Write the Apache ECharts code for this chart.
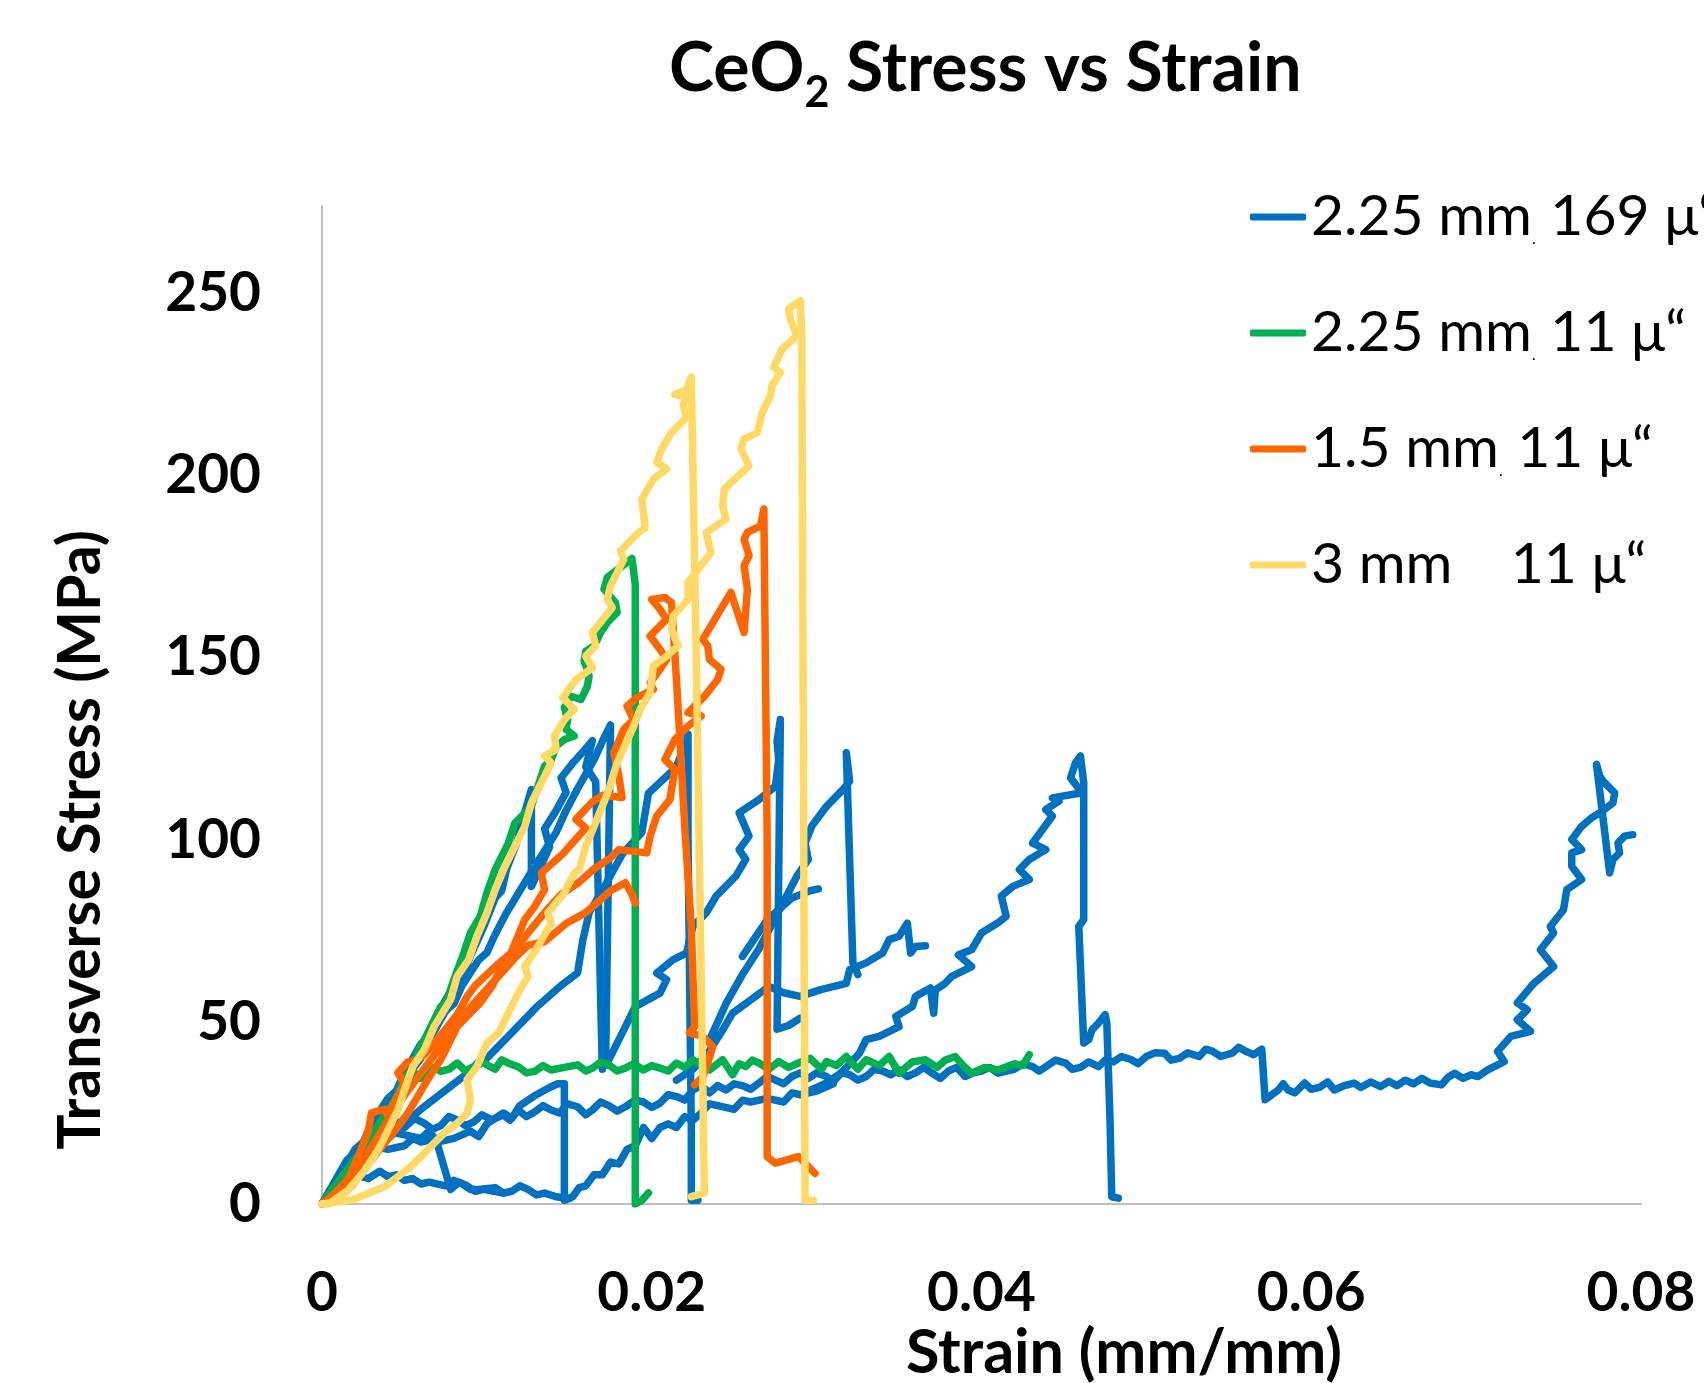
<!DOCTYPE html>
<html>
<head>
<meta charset="utf-8">
<script src="https://cdn.jsdelivr.net/npm/echarts@6/dist/echarts.min.js"></script>
<style>
  html, body { margin: 0; padding: 0; background: #fff; }
  #chart { width: 1704px; height: 1383px; }
</style>
</head>
<body>
<div id="chart"></div>
<script>
// legend names and axis ticks
const seriesNames = ["2.25 mm 169 μ“", "2.25 mm 11 μ“", "1.5 mm 11 μ“", "3 mm    11 μ“"];
const xTicks = [0, 0.02, 0.04, 0.06, 0.08];
const yTicks = [0, 50, 100, 150, 200, 250];

// ---- 2.25 mm 169 μ" (blue), several specimens: [strain, stress MPa]
const blueLow = [[0,0],[0.0005,4],[0.0012,6],[0.0016,8.5],[0.002,8],[0.0028,7],[0.0035,9],[0.004,7.5],[0.0045,8],[0.005,6.5],[0.0055,7],[0.006,5.5],[0.0065,6],[0.0075,5],[0.008,6.5],[0.0085,5.5],[0.009,4],[0.0095,4],[0.0105,4.5],[0.011,3],[0.0115,3.5],[0.012,5],[0.0125,4],[0.013,2.5],[0.0135,3],[0.0142,2],[0.015,1.5]];
const blueSlant = [[0,0],[0.001,6],[0.002,10],[0.0025,12.5],[0.003,13],[0.0035,15.5],[0.004,15],[0.005,16],[0.0055,18],[0.006,17],[0.0069,18],[0.0078,4],[0.0083,6],[0.0088,5],[0.0093,3.5],[0.0098,4],[0.011,3]];
const blueStep = [[0,0],[0.001,7],[0.002,14],[0.003,18],[0.0035,21],[0.004,20],[0.005,19],[0.006,18],[0.0065,20],[0.007,17],[0.008,18],[0.009,20],[0.0095,18.5],[0.01,22],[0.011,25],[0.0115,23.5],[0.012,27],[0.013,30],[0.0138,32],[0.0143,33],[0.0147,33],[0.0147,1],[0.0152,2],[0.0156,4.5],[0.016,5],[0.0165,8],[0.017,8],[0.0175,11.5],[0.018,11],[0.0185,15],[0.019,16],[0.0195,21],[0.02,18],[0.0205,21],[0.021,22],[0.0215,21],[0.022,24],[0.0225,23],[0.023,25],[0.0235,27.5],[0.024,27],[0.025,26],[0.0255,28.5],[0.026,28],[0.027,29],[0.028,28],[0.0285,30.5],[0.029,30],[0.03,31],[0.031,33]];
const blueLong = [[0,0],[0.001,8],[0.0015,12],[0.002,14],[0.0028,18.5],[0.0033,20.5],[0.0038,21.2],[0.0044,23],[0.005,21],[0.0056,23.5],[0.0062,22.2],[0.0067,20.5],[0.0072,21.5],[0.0077,24],[0.0082,23.1],[0.0087,21.5],[0.0092,22.5],[0.0097,24.5],[0.0103,23.1],[0.011,24.5],[0.0114,23],[0.0119,25.8],[0.0124,24],[0.0128,25],[0.0134,27],[0.0139,25.8],[0.0144,25],[0.0149,27.5],[0.0155,26.7],[0.016,24.5],[0.0164,25.8],[0.0169,28],[0.0174,27],[0.0179,25.5],[0.0184,26.7],[0.019,28.5],[0.0195,28],[0.02,26.5],[0.0205,27.7],[0.021,30],[0.0215,29.5],[0.022,28.5],[0.0225,31.3],[0.023,32.5],[0.0235,30.5],[0.024,32.5],[0.0245,31.3],[0.025,33],[0.0255,32.5],[0.026,31.5],[0.0265,33.2],[0.027,35],[0.0275,34],[0.028,33],[0.0285,35],[0.029,36],[0.0295,34.5],[0.03,36],[0.0306,35],[0.031,33.5],[0.0315,36],[0.032,35.5],[0.0325,34],[0.033,35],[0.0335,37],[0.034,36.5],[0.0345,35.5],[0.035,36.8],[0.0355,35],[0.036,36],[0.0365,37.5],[0.037,35.9],[0.0375,34.5],[0.038,36.5],[0.0385,37.5],[0.039,35],[0.0395,36],[0.04,36.5],[0.0405,37.5],[0.041,35.9],[0.0415,36.5],[0.042,37],[0.0425,38.5],[0.0431,37.7],[0.0435,36.5],[0.044,38],[0.0445,39.5],[0.0451,38.7],[0.0455,37],[0.046,37.5],[0.0465,39],[0.0471,37.7],[0.0475,39.5],[0.048,39],[0.0485,40.5],[0.0491,39.6],[0.0495,38.5],[0.05,40.5],[0.0505,41.5],[0.0511,41.4],[0.0515,39.5],[0.052,40],[0.0525,41.5],[0.0532,40.5],[0.0536,42.5],[0.054,42],[0.0545,40.5],[0.0552,41.4],[0.0556,43],[0.056,42],[0.0565,41],[0.057,42.5],[0.0572,28.6],[0.058,31.3],[0.0583,33],[0.0586,31.3],[0.059,30.5],[0.0596,33.2],[0.06,31.5],[0.0605,32],[0.061,33.5],[0.0614,31.3],[0.062,32.5],[0.0626,33.2],[0.063,32],[0.0636,33.5],[0.0642,32.2],[0.0647,33.7],[0.0652,32.5],[0.0657,34],[0.0662,33],[0.0667,34.5],[0.0672,33.2],[0.0679,32.7],[0.0683,34.8],[0.0687,35.9],[0.0692,34.5],[0.0697,35.5],[0.0701,35],[0.0707,36.8],[0.0717,39.1],[0.0713,41.9],[0.0721,46],[0.0733,47.4],[0.0725,50.6],[0.0731,53.3],[0.0725,55.2],[0.0735,60.6],[0.0747,65.2],[0.0739,69.8],[0.0747,74.4],[0.0745,76.2],[0.0753,80.8],[0.0755,86.3],[0.0764,89.1],[0.0758,92.7],[0.0758,96.4],[0.0764,97.3],[0.0758,100.1],[0.0764,103.7],[0.077,106],[0.0775,107.4],[0.0783,110.1],[0.0784,112.9],[0.0777,116.1],[0.0775,117.5],[0.0773,120.7],[0.0781,90.9],[0.0783,94.6],[0.0787,96.4],[0.0786,99.1],[0.079,101],[0.0795,101.4]];
const blueSpike = [[0,0],[0.001,7],[0.002,15],[0.0025,17],[0.003,22],[0.004,29],[0.0045,31],[0.005,36],[0.006,44],[0.0065,46],[0.007,52],[0.008,60],[0.0085,62],[0.009,68],[0.0098,76],[0.0105,84],[0.0109,86],[0.0112,92],[0.0118,99],[0.0122,106],[0.0127,113.8],[0.0127,87.2],[0.0132,92],[0.0138,98],[0.0135,103],[0.0142,108],[0.0148,113],[0.0145,117],[0.0152,121],[0.0158,124],[0.0164,127.2],[0.016,120],[0.0166,116],[0.017,37]];
const bluePeak28 = [[0,0],[0.0012,6],[0.0025,14],[0.0035,22],[0.004,25],[0.0045,30],[0.0055,37],[0.006,40],[0.0065,45],[0.0075,53],[0.008,55],[0.0085,60],[0.0095,67],[0.01,69],[0.0105,74],[0.0112,80],[0.012,86],[0.0128,92],[0.0135,97],[0.0142,102],[0.0148,108],[0.0155,114],[0.016,118],[0.0165,122],[0.017,127],[0.0175,131.5],[0.0172,38],[0.0176,41.4],[0.0184,48.7],[0.019,54.2],[0.0205,57.9],[0.0209,61.6],[0.0203,63.4],[0.0213,67.1],[0.0221,68.9],[0.0225,76.2],[0.0233,79.9],[0.0239,84.5],[0.0251,90],[0.0257,94.6],[0.0253,97.3],[0.0259,101],[0.0253,107.4],[0.0265,111],[0.0275,114.7],[0.0277,122],[0.0276,127],[0.0278,133],[0.0276,48],[0.0283,49],[0.029,51]];
const blueDrop22 = [[0,0],[0.002,9],[0.004,18],[0.006,26],[0.008,33],[0.0099,39.6],[0.0115,47],[0.013,54],[0.0145,60],[0.0155,63.4],[0.0158,72],[0.0162,80],[0.017,86],[0.0182,96],[0.0194,102],[0.0198,112.8],[0.0215,120],[0.0221,127.2],[0.0222,129],[0.0222,100],[0.0223,60],[0.0224,20],[0.0224,1],[0.0228,1]];
const blueMid = [[0.0215,34],[0.0225,37],[0.0235,42],[0.0242,47],[0.0249,52.4],[0.026,56],[0.0271,59.7],[0.028,58],[0.029,57],[0.0302,58.8],[0.0318,60.6],[0.032,64.3],[0.033,66.2],[0.034,68.9],[0.0344,72.6],[0.035,73.5],[0.0355,77.1],[0.0357,68.9],[0.036,70.7],[0.0366,70.9]];
const bluePeak32 = [[0.0235,45],[0.0245,55],[0.0255,63],[0.0265,70],[0.0272,76],[0.028,83],[0.0288,90],[0.0295,94.6],[0.0293,99.1],[0.0297,103.7],[0.0306,109.2],[0.0316,113.8],[0.032,116.1],[0.0318,123.9],[0.0322,66.2],[0.0325,63]];
const blueEnd30 = [[0.0255,68],[0.027,78],[0.0285,84],[0.0296,86],[0.0301,86.5]];
const bluePeak46 = [[0.0295,31],[0.0305,33],[0.0315,36],[0.0326,41.4],[0.033,45.1],[0.0338,46],[0.035,48.7],[0.0348,51.5],[0.0358,54.2],[0.036,57],[0.0369,59.3],[0.0371,52.4],[0.0372,58.8],[0.0378,60.6],[0.0382,62.5],[0.0394,65.2],[0.0386,68.4],[0.0394,69.8],[0.04,74.4],[0.041,77.2],[0.0415,79],[0.0412,84.5],[0.0419,87.2],[0.0429,89.1],[0.0423,91.8],[0.0429,94.6],[0.0439,97.3],[0.0431,99.1],[0.0437,102.8],[0.0443,106.5],[0.0439,108.3],[0.0447,110.6],[0.0443,111.5],[0.0461,112.9],[0.0454,117],[0.0457,121.1],[0.046,123],[0.0462,115.6],[0.0462,78.1],[0.0459,76.2],[0.0462,44.2],[0.0465,45.1],[0.0467,47.8],[0.0471,49.7],[0.0475,52],[0.0476,49.7],[0.0478,22.2],[0.0479,2],[0.0483,1.6]];

// ---- 2.25 mm 11 μ" (green)
const greenBreak = [[0,0],[0.0006,3.8],[0.0014,8.4],[0.0022,12.1],[0.0026,16.7],[0.0034,20.3],[0.0038,22],[0.0042,26.7],[0.005,33.2],[0.0053,34],[0.0058,41.4],[0.0066,48.7],[0.0072,54.2],[0.0075,55],[0.008,61.6],[0.0086,68.9],[0.009,74.4],[0.0096,79],[0.01,85.4],[0.0105,91.8],[0.0113,99.1],[0.0117,104.6],[0.0127,109.2],[0.0131,114.7],[0.0135,120.2],[0.0139,122],[0.0142,125.7],[0.0147,127.5],[0.0153,128.5],[0.0148,130.3],[0.0149,133],[0.0147,136.3],[0.0151,139.4],[0.0157,138.5],[0.0161,142.2],[0.0162,145],[0.0159,149.1],[0.016,151.8],[0.0165,153.2],[0.0169,156.9],[0.0173,159.6],[0.0179,162.4],[0.0178,165.1],[0.0171,168.8],[0.0173,172],[0.0188,177.2],[0.019,170],[0.019,60],[0.019,0],[0.0194,1],[0.0198,3]];
const greenFlat = [[0,0],[0.0003,2],[0.0013,8],[0.0026,16],[0.0036,23],[0.0046,30],[0.005,35],[0.0055,36.5],[0.006,34.5],[0.0064,35],[0.0068,37.5],[0.0072,36.4],[0.0077,37],[0.0082,38.7],[0.0087,36.5],[0.0092,37.7],[0.0096,39.5],[0.01,38.2],[0.0105,37],[0.0109,39.6],[0.0114,38.5],[0.0119,37.7],[0.0124,36],[0.0129,36.4],[0.0134,38],[0.0139,36.8],[0.0147,37.5],[0.0155,38.2],[0.016,36.5],[0.0164,37.3],[0.0169,39],[0.0174,38.2],[0.0179,36.5],[0.0184,37.3],[0.0189,38.5],[0.0195,36.8],[0.02,38],[0.0205,37.3],[0.021,36.5],[0.0215,38.7],[0.022,37.5],[0.0225,39.6],[0.023,38],[0.0235,36.8],[0.0243,39.6],[0.0249,35.5],[0.0253,38.5],[0.0257,37.7],[0.0261,39.5],[0.0265,38.7],[0.0271,37],[0.0277,39.1],[0.0283,37.5],[0.0289,38.7],[0.0296,40],[0.0303,37],[0.0306,39.1],[0.0312,38],[0.0318,40.5],[0.0325,37],[0.033,39.6],[0.0338,38],[0.0344,40.5],[0.035,35.9],[0.0358,39],[0.0366,39.6],[0.0373,37.5],[0.0378,39.5],[0.0384,40.5],[0.039,37.5],[0.0394,35.9],[0.0402,37.5],[0.041,36.8],[0.042,38.5],[0.0425,38],[0.0429,41]];

// ---- 1.5 mm 11 μ" (orange)
const orangePeak166 = [[0,0],[0.001,2.9],[0.0018,4.8],[0.0024,9.3],[0.003,12.1],[0.0038,16.7],[0.0046,21.2],[0.0052,24.9],[0.0058,29.5],[0.0064,34.1],[0.0072,39.6],[0.0076,43.2],[0.0082,48.7],[0.0088,51.5],[0.0096,55.2],[0.0103,59.7],[0.0107,63.4],[0.0113,67.1],[0.0123,78.1],[0.0129,81.7],[0.0135,86.3],[0.0133,90.9],[0.0146,96.1],[0.016,103.2],[0.0154,105.6],[0.0164,110.4],[0.017,112.2],[0.0182,111.6],[0.018,117.6],[0.0177,123.9],[0.0183,130.3],[0.0189,133],[0.0185,136.7],[0.0191,139],[0.0201,141.3],[0.0199,143.1],[0.0205,146.8],[0.0209,149.5],[0.0205,152.3],[0.0199,155.9],[0.0205,158.7],[0.0209,160.5],[0.0205,163.3],[0.02,166],[0.0208,166.5],[0.0212,165.1],[0.0215,144],[0.022,103.7],[0.0224,76.2],[0.0226,48.7],[0.0223,47],[0.0231,46],[0.0237,43.2],[0.0234,38.7],[0.0231,35],[0.0226,32.7]];
const orangePeak191 = [[0,0],[0.0008,3],[0.0016,7],[0.0022,13],[0.0028,20],[0.003,25],[0.0038,26],[0.004,24],[0.0045,29],[0.005,33],[0.0046,36],[0.0052,39],[0.0058,39.6],[0.0062,41],[0.0068,44],[0.0075,48],[0.0082,52],[0.0088,57],[0.0093,60],[0.01,63],[0.0107,66],[0.0115,69],[0.0121,72],[0.0126,75],[0.0135,80],[0.0145,85],[0.0155,88],[0.0165,92],[0.0175,95],[0.018,97.3],[0.0197,96.4],[0.0199,101],[0.0203,106.5],[0.0211,111],[0.0214,119.3],[0.0208,122],[0.0214,127.5],[0.0222,131.2],[0.023,134],[0.0222,134.9],[0.0232,139.4],[0.024,144],[0.0242,146.8],[0.0235,149.5],[0.0234,153.2],[0.0231,155],[0.0248,167.9],[0.0256,156.9],[0.0258,168.8],[0.0256,175.2],[0.0259,178],[0.0256,182.5],[0.0258,184.4],[0.0266,186.2],[0.0268,190.8],[0.027,100],[0.027,13],[0.0275,11.2],[0.0289,13],[0.0299,8.4]];
const orangeShort = [[0,0],[0.0012,4],[0.002,9],[0.0028,14],[0.0036,20],[0.0044,26],[0.0052,31],[0.006,36],[0.007,42],[0.008,48],[0.009,54],[0.01,59],[0.011,64],[0.0118,68],[0.0125,71],[0.0135,72],[0.0148,77],[0.016,80],[0.0175,86],[0.0184,88.2],[0.0188,85],[0.019,82.6]];

// ---- 3 mm 11 μ" (yellow)
const yellowPeak227 = [[0,0],[0.0004,0],[0.0016,3.8],[0.0026,9.3],[0.0034,14.8],[0.004,20.3],[0.0046,25.8],[0.005,31.3],[0.0055,37.7],[0.0062,42.3],[0.0068,48.7],[0.0078,56.1],[0.0082,62.5],[0.0089,67.1],[0.0094,73.5],[0.01,79.9],[0.0105,86.3],[0.0111,92.7],[0.0118,99.1],[0.0123,103.7],[0.0127,110.1],[0.0133,115.6],[0.0139,121.1],[0.0135,123],[0.0142,124.8],[0.0141,128.5],[0.0147,133],[0.0153,135.8],[0.0146,139],[0.0154,144],[0.0164,147.2],[0.016,150.4],[0.0166,153.2],[0.0164,156.9],[0.0176,163.7],[0.0173,166],[0.0175,169.7],[0.0183,177],[0.0181,179.3],[0.0191,183.9],[0.0196,185.7],[0.0194,193.5],[0.0201,199],[0.0209,201.8],[0.0203,203.6],[0.0206,207.3],[0.0212,211.8],[0.0221,216],[0.0219,219.2],[0.0221,221.5],[0.0214,222.3],[0.0221,223.5],[0.0224,227],[0.0227,150],[0.0232,3],[0.0224,2]];
const yellowPeak248 = [[0,0],[0.0018,1.1],[0.0028,2.9],[0.0038,4.8],[0.0046,7.5],[0.0054,10.3],[0.0062,13.9],[0.0068,16.7],[0.0074,19.4],[0.0082,22.2],[0.0088,24.9],[0.009,28.6],[0.0088,34.1],[0.0094,37.7],[0.01,44.2],[0.0107,46.9],[0.0113,52.4],[0.0119,57.9],[0.0125,62.5],[0.0123,65.2],[0.0131,70.7],[0.0139,77.1],[0.0137,79.9],[0.0147,85.4],[0.0153,90.9],[0.0156,91.8],[0.016,98.2],[0.017,109.2],[0.0174,113.8],[0.0179,121.1],[0.0189,131.2],[0.0193,135.8],[0.0199,140.4],[0.0201,147.7],[0.0209,150.4],[0.0216,153.2],[0.0212,157.8],[0.0213,161.4],[0.0222,166],[0.0222,170.6],[0.0236,178.9],[0.0233,184.3],[0.0245,188],[0.0243,191.7],[0.0244,196.3],[0.0259,202.7],[0.0254,207.3],[0.0256,210],[0.0264,211.8],[0.0267,217.3],[0.0272,221.9],[0.0273,224.7],[0.0278,228.3],[0.0274,229.7],[0.0279,234.7],[0.0288,238.4],[0.0284,243],[0.0283,245.7],[0.029,248],[0.0291,239],[0.0293,1],[0.0298,1]];

const blueCurves = [blueLow, blueSlant, blueStep, blueLong, blueSpike, bluePeak28, blueDrop22, blueMid, bluePeak32, blueEnd30, bluePeak46];
const greenCurves = [greenBreak, greenFlat];
const orangeCurves = [orangePeak166, orangePeak191, orangeShort];
const yellowCurves = [yellowPeak227, yellowPeak248];

const colors = ["#0070C0", "#00B050", "#FF6600", "#FFD966"];
const groups = [blueCurves, greenCurves, orangeCurves, yellowCurves];

const font = "Lato";
const chart = echarts.init(document.getElementById("chart"));

const series = [];
groups.forEach((curves, i) => {
  curves.forEach((pts) => {
    series.push({
      name: seriesNames[i],
      type: "line",
      data: pts,
      showSymbol: false,
      symbol: "none",
      lineStyle: { color: colors[i], width: 7.5, cap: "round", join: "round" },
      itemStyle: { color: colors[i] },
    });
  });
});

chart.setOption({
  animation: false,
  backgroundColor: "#fff",
  title: {
    text: "CeO{sub|2} Stress vs Strain",
    left: 664,
    top: 18,
    textStyle: {
      fontFamily: font,
      fontWeight: "bold",
      fontSize: 68,
      color: "#000",
      lineHeight: 92,
      rich: {
        sub: { fontFamily: font, fontWeight: "bold", fontSize: 43, lineHeight: 42, color: "#000", verticalAlign: "bottom" },
      },
    },
  },
  legend: {
    data: seriesNames,
    orient: "vertical",
    left: 1245,
    top: 182,
    itemWidth: 56,
    itemHeight: 7,
    itemGap: 56,
    icon: "roundRect",
    formatter: (name) => name.replace("mm 1", "mm{dot|.} 1"),
    textStyle: {
      fontFamily: font,
      fontSize: 57,
      lineHeight: 60,
      color: "#000",
      rich: {
        dot: { fontFamily: font, fontSize: 16, color: "#000", verticalAlign: "bottom", lineHeight: 60 },
      },
    },
  },
  grid: { left: 322, right: 63, top: 206, bottom: 179, containLabel: false },
  xAxis: {
    type: "value",
    min: xTicks[0],
    max: xTicks[xTicks.length - 1],
    interval: 0.02,
    axisLine: { show: true, lineStyle: { color: "#BFBFBF", width: 2 } },
    axisTick: { show: false },
    splitLine: { show: false },
    axisLabel: {
      margin: 62,
      fontFamily: font,
      fontWeight: "bold",
      fontSize: 55,
      color: "#000",
      formatter: (v) => (v === 0 ? "0" : v.toFixed(2)),
    },
  },
  yAxis: {
    type: "value",
    min: yTicks[0],
    max: 274,
    interval: 50,
    axisLine: { show: true, lineStyle: { color: "#BFBFBF", width: 2 } },
    axisTick: { show: false },
    splitLine: { show: false },
    axisLabel: {
      margin: 61,
      fontFamily: font,
      fontWeight: "bold",
      fontSize: 55,
      color: "#000",
      formatter: (v) => (yTicks.indexOf(Math.round(v)) >= 0 && Math.abs(v - Math.round(v)) < 1e-6 ? String(Math.round(v)) : ""),
    },
  },
  graphic: [
    {
      type: "text",
      x: 81,
      y: 840,
      rotation: Math.PI / 2,
      style: {
        text: "Transverse Stress (MPa)",
        fontFamily: font,
        fontWeight: "bold",
        fontSize: 59,
        fill: "#000",
        align: "center",
        verticalAlign: "middle",
        textAlign: "center",
        textVerticalAlign: "middle",
      },
    },
    {
      type: "text",
      x: 1124,
      y: 1353,
      style: {
        text: "Strain (mm/mm)",
        fontFamily: font,
        fontWeight: "bold",
        fontSize: 61,
        fill: "#000",
        align: "center",
        verticalAlign: "middle",
        textAlign: "center",
        textVerticalAlign: "middle",
      },
    },
  ],
  series: series,
});
window.addEventListener("resize", () => {
  chart.resize();
});
</script>
</body>
</html>
